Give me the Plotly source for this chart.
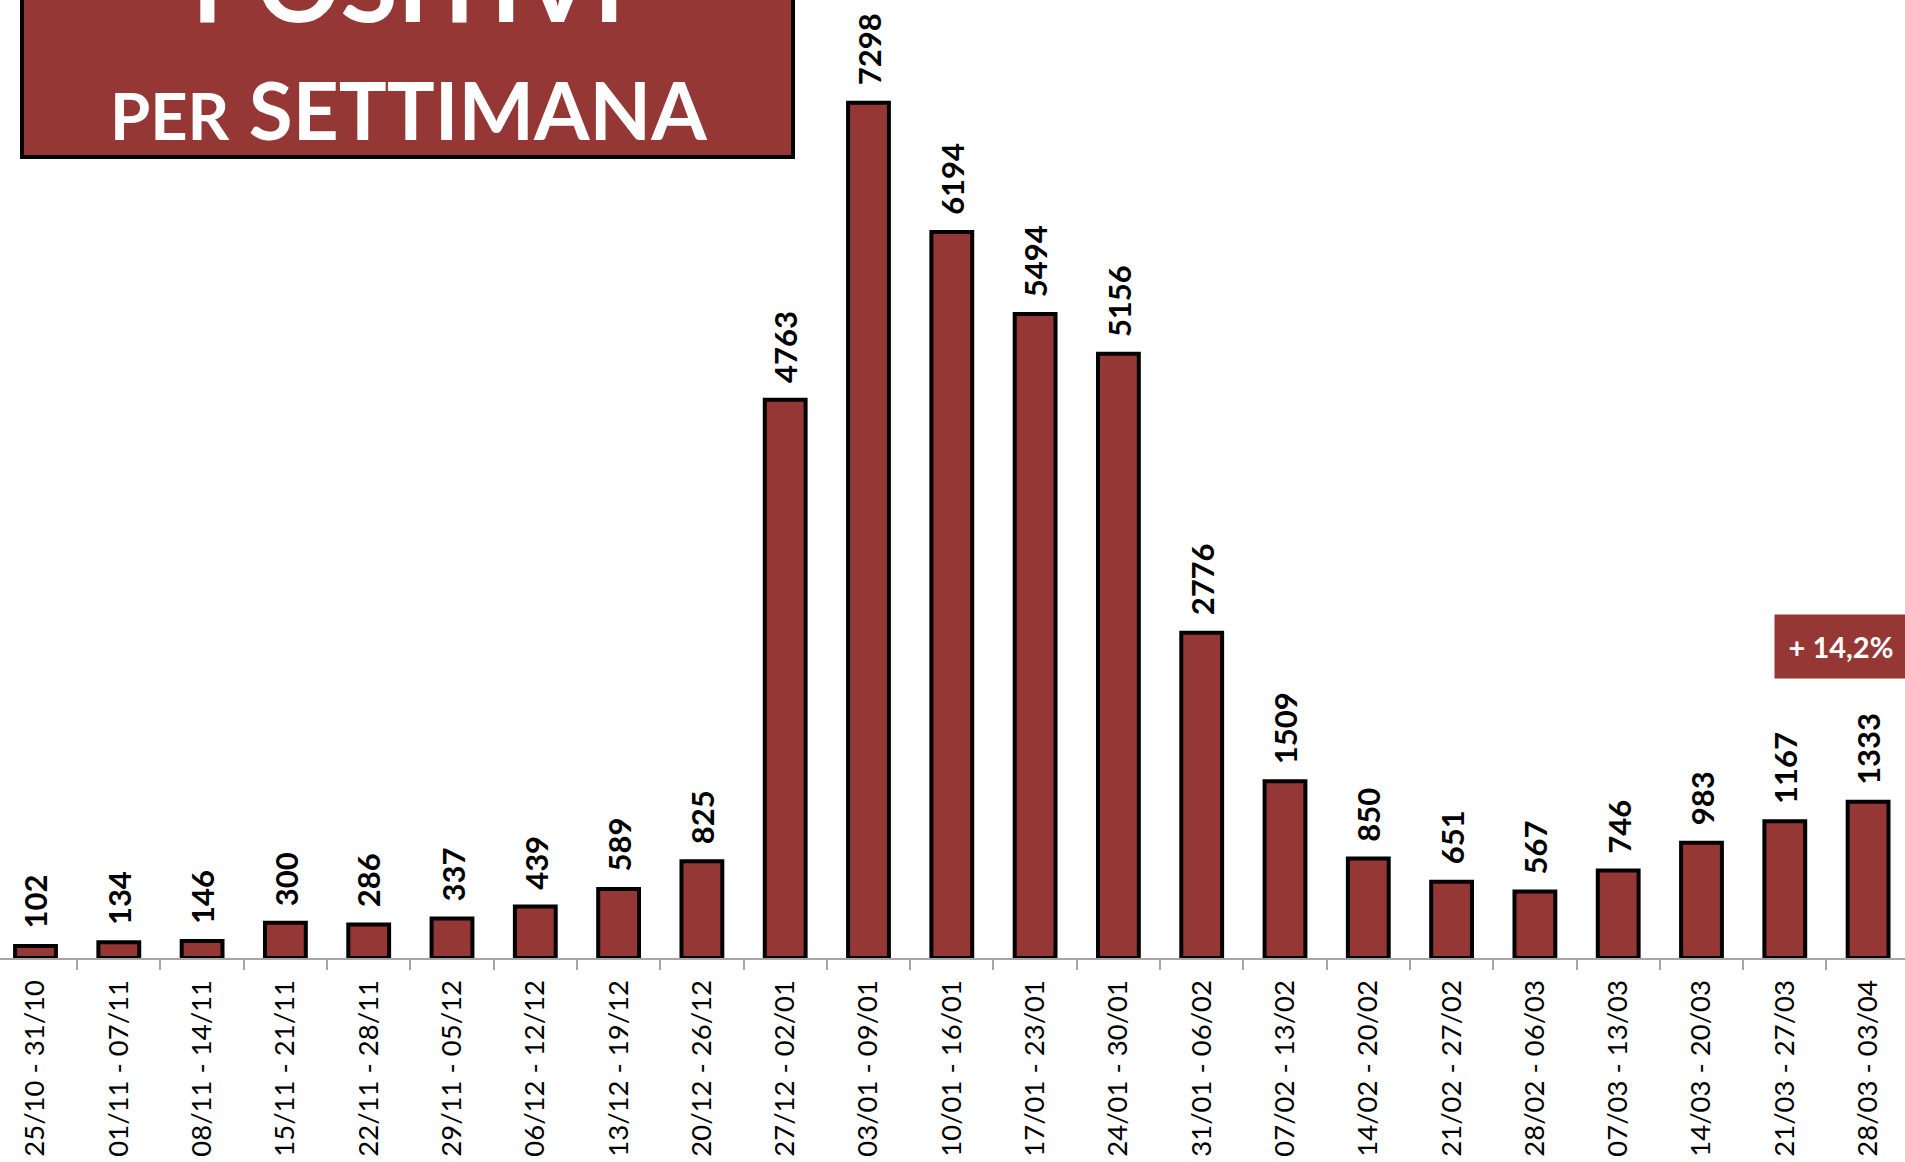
import plotly.graph_objects as go

weeks = ["25/10 - 31/10", "01/11 - 07/11", "08/11 - 14/11", "15/11 - 21/11",
         "22/11 - 28/11", "29/11 - 05/12", "06/12 - 12/12", "13/12 - 19/12",
         "20/12 - 26/12", "27/12 - 02/01", "03/01 - 09/01", "10/01 - 16/01",
         "17/01 - 23/01", "24/01 - 30/01", "31/01 - 06/02", "07/02 - 13/02",
         "14/02 - 20/02", "21/02 - 27/02", "28/02 - 06/03", "07/03 - 13/03",
         "14/03 - 20/03", "21/03 - 27/03", "28/03 - 03/04"]
positivi = [102, 134, 146, 300, 286, 337, 439, 589, 825, 4763, 7298, 6194,
            5494, 5156, 2776, 1509, 850, 651, 567, 746, 983, 1167, 1333]

title_top = "POSITIVI"
title_small = "PER"
title_big = "SETTIMANA"

RED = "#953735"
W, H = 1905, 1162
MB = 204
PH = H - MB

fig = go.Figure()
fig.add_trace(go.Bar(
    x=weeks, y=positivi, width=0.49,
    marker=dict(color=RED, line=dict(color="#000000", width=4)),
    hoverinfo="x+y",
))

annotations = []
for w, v in zip(weeks, positivi):
    annotations.append(dict(
        x=w, y=v, xref="x", yref="y", text=f"<b>{v}</b>", showarrow=False,
        textangle=-90, yanchor="bottom", xanchor="center", yshift=15,
        font=dict(family="Lato", size=31, color="#000000"),
    ))

# change of the last week vs previous
pct = (positivi[-1] / positivi[-2] - 1) * 100
pct_txt = "+ " + f"{pct:.1f}".replace(".", ",") + "%"
annotations.append(dict(
    x=1841 / W, y=(PH - 646.5) / PH, xref="paper", yref="paper",
    text=f"<b>{pct_txt}</b>", showarrow=False, xanchor="center", yanchor="middle",
    font=dict(family="Lato", size=29, color="#ffffff"),
    bgcolor=RED, width=124, height=55, borderpad=4,
))

# title
annotations.append(dict(
    x=408 / W, y=(PH + 18) / PH, xref="paper", yref="paper",
    text=f"<b>{title_top}</b>", showarrow=False, xanchor="center", yanchor="middle",
    font=dict(family="Lato", size=104, color="#ffffff"),
))
annotations.append(dict(
    x=408 / W, y=(PH - 109) / PH, xref="paper", yref="paper",
    text=f"<b><span style='font-size:65px'>{title_small}</span> {title_big}</b>",
    showarrow=False, xanchor="center", yanchor="middle",
    font=dict(family="Lato", size=80, color="#ffffff"),
))

fig.update_layout(
    width=W, height=H,
    margin=dict(l=0, r=0, t=0, b=MB, pad=0),
    paper_bgcolor="#ffffff", plot_bgcolor="#ffffff",
    showlegend=False,
    bargap=0.51,
    annotations=annotations,
    shapes=[dict(
        type="rect", xref="paper", yref="paper",
        x0=22 / W, x1=793 / W, y0=(PH - 157) / PH, y1=(PH + 80) / PH,
        fillcolor=RED, line=dict(color="#000000", width=4), layer="below",
    )],
    xaxis=dict(
        type="category", range=[-35.5 / 83.3, (W - 35.5) / 83.3],
        showline=True, linecolor="#a6a6a6", linewidth=2,
        ticks="outside", tickson="boundaries", ticklen=10, tickwidth=2,
        tickcolor="#a6a6a6", tickangle=-90, ticklabelstandoff=9,
        tickfont=dict(family="Lato", size=27.5, color="#000000"),
        showgrid=False, zeroline=False, fixedrange=True,
    ),
    yaxis=dict(visible=False, range=[0, PH / 0.1172], showgrid=False,
               zeroline=False, fixedrange=True),
)

fig.write_html(
    "out.html",
    config={"displayModeBar": False},
    post_script="document.body.style.margin='0';document.body.style.overflow='hidden';",
)
